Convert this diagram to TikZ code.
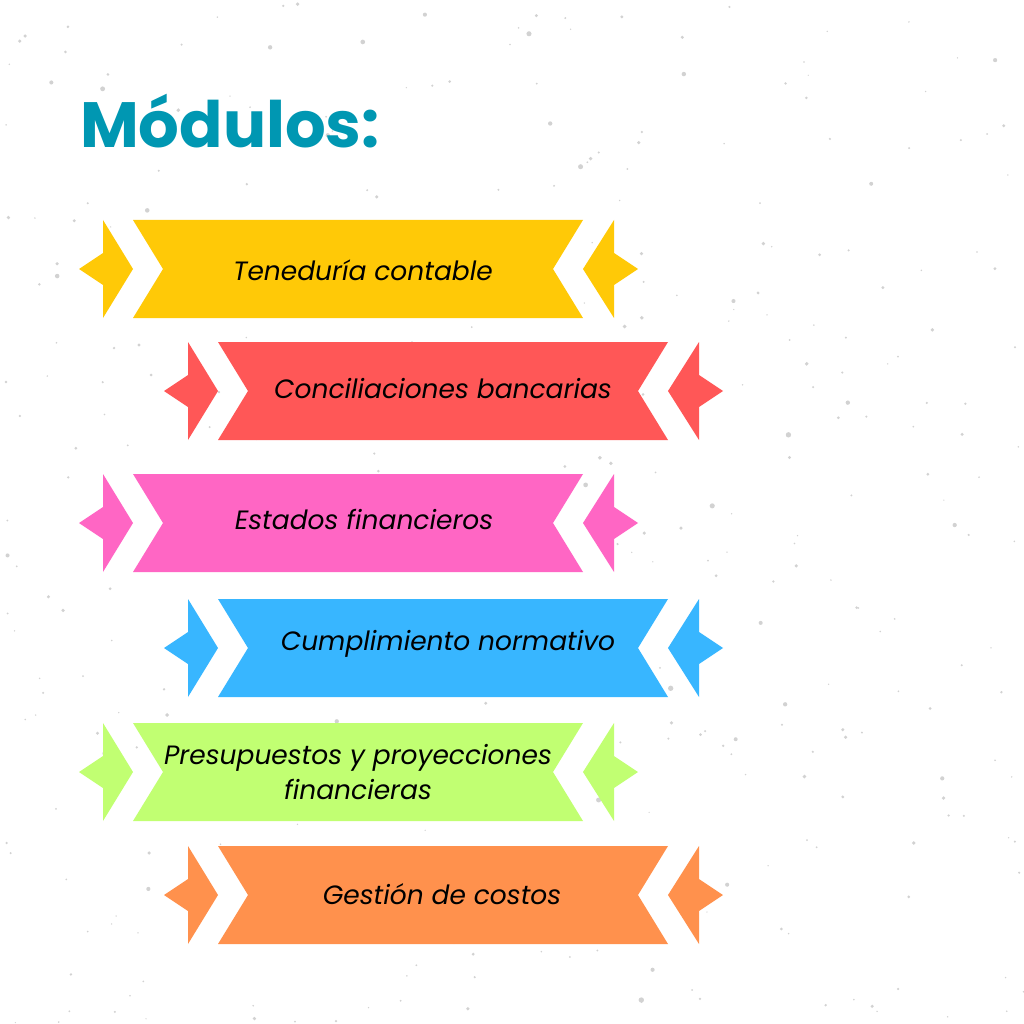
\documentclass[tikz,border=0pt]{standalone}
\usepackage{fontspec}
\setmainfont{Poppins}
\usepackage[HTML]{xcolor}
\usepackage{tikz}
\usetikzlibrary{positioning}

\definecolor{titleteal}{HTML}{0097B2}
\definecolor{ryellow}{HTML}{FFC907}
\definecolor{rred}{HTML}{FF5757}
\definecolor{rpink}{HTML}{FF66C4}
\definecolor{rblue}{HTML}{38B6FF}
\definecolor{rgreen}{HTML}{C1FF72}
\definecolor{rorange}{HTML}{FF914D}

\tikzset{
  speck/.style={fill=gray!35},
  ribbontext/.style={font=\itshape\fontsize{26.5}{35}\selectfont, align=center, text=black},
  titletext/.style={font=\bfseries\fontsize{64}{70}\selectfont, text=titleteal}
}

\begin{document}
\begin{tikzpicture}[x=1pt,y=-1pt]
\useasboundingbox (0,0) rectangle (1024,1024);
\fill[white] (0,0) rectangle (1024,1024);
% speckled background
\pgfmathsetseed{42}
\foreach \i in {1,...,380}{
\pgfmathsetmacro\px{rnd*1024}
\pgfmathsetmacro\py{rnd*1024}
\pgfmathsetmacro\pr{0.7+2.2*rnd*rnd}
\fill[speck] (\px,\py) circle (\pr);
}
% title
\node[titletext, anchor=base west, inner sep=0pt] (titulo) at (80,148) {Módulos:};
% ribbons: body with notched ends and two tails
\foreach \cx/\cy/\col in {358/269/ryellow, 443/391/rred, 358/523/rpink, 443/648/rblue, 358/772/rgreen, 443/895/rorange}{
\begin{scope}[shift={(\cx,\cy)}]
\fill[\col] (-225,-49) -- (225,-49) -- (195,0) -- (225,49) -- (-225,49) -- (-195,0) -- cycle;
\fill[\col] (-255,-49) -- (-225,0) -- (-255,49) -- (-255,16) -- (-279,0) -- (-255,-16) -- cycle;
\fill[\col] (225,0) -- (256,-49) -- (256,-16) -- (280,0) -- (256,16) -- (256,49) -- cycle;
\end{scope}
}
% labels
\node[ribbontext] (teneduria) at (363,270) {Teneduría contable};
\node[ribbontext] (conciliaciones) at (443,389) {Conciliaciones bancarias};
\node[ribbontext] (estados) at (364,519) {Estados financieros};
\node[ribbontext] (cumplimiento) at (448,644) {Cumplimiento normativo};
\node[ribbontext] (presupuestos) at (358,772) {Presupuestos y proyecciones\\financieras};
\node[ribbontext] (costos) at (442,894) {Gestión de costos};
\end{tikzpicture}
\end{document}
